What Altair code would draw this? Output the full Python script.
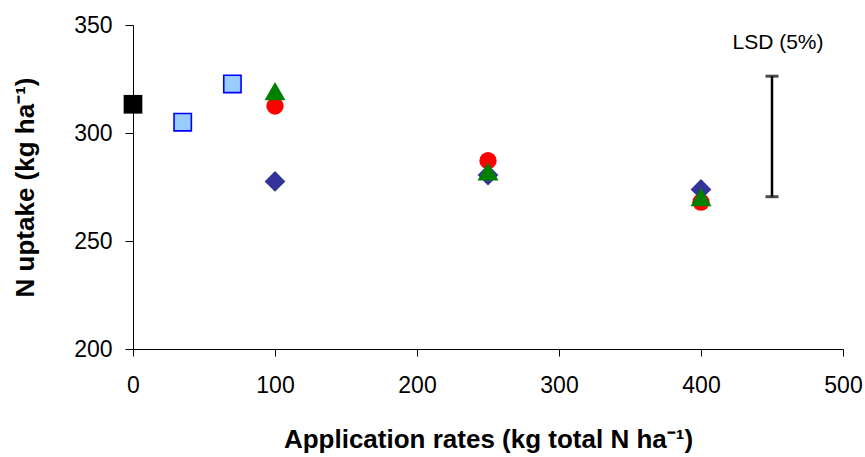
import altair as alt
import pandas as pd

# ---- data ----
control_rate = [0]
control_uptake = [313.3]

lightblue_rate = [35, 70]
lightblue_uptake = [305.0, 322.7]

rates = [100, 250, 400]
diamond_uptake = [277.6, 280.5, 273.9]
red_uptake = [312.5, 287.2, 268.0]
green_uptake = [319.4, 282.2, 270.3]

lsd_x = [450]
lsd_low = [270.5]
lsd_high = [326.3]
lsd_label = ["LSD (5%)"]

FONT = "Liberation Sans"

x_scale = alt.Scale(domain=[0, 500], nice=False, zero=False)
y_scale = alt.Scale(domain=[200, 350], nice=False, zero=False)

x_axis = alt.Axis(
    title="Application rates (kg total N ha⁻¹)",
    values=[0, 100, 200, 300, 400, 500],
    format="d",
    grid=False,
    tickSize=7,
    labelPadding=18,
    labelFlush=False,
    titleY=98,
    titleBaseline="alphabetic",
)
y_axis = alt.Axis(
    title="N uptake (kg ha⁻¹)",
    values=[200, 250, 300, 350],
    format="d",
    grid=False,
    tickSize=8,
    labelPadding=13,
    labelFlush=False,
    titleX=-100,
    titleY=162,
    titleAngle=270,
    titleAlign="center",
    titleBaseline="alphabetic",
)


def series_layer(xs, ys, shape, fill, stroke, stroke_width, size, with_axes=False):
    d = pd.DataFrame({"rate": xs, "uptake": ys})
    if with_axes:
        xe = alt.X("rate:Q", scale=x_scale, axis=x_axis)
        ye = alt.Y("uptake:Q", scale=y_scale, axis=y_axis)
    else:
        xe = alt.X("rate:Q", scale=x_scale)
        ye = alt.Y("uptake:Q", scale=y_scale)
    return alt.Chart(d).mark_point(
        shape=shape, filled=True, fill=fill, stroke=stroke,
        strokeWidth=stroke_width, size=size, opacity=1, fillOpacity=1, strokeOpacity=1,
    ).encode(x=xe, y=ye)


control = series_layer(control_rate, control_uptake, "square", "#000000", "#000000", 0, 350, with_axes=True)
lightblue = series_layer(lightblue_rate, lightblue_uptake, "square", "#99CCFF", "#0000FF", 1.6, 300)
diamond = series_layer(rates, diamond_uptake, "diamond", "#333399", "#333399", 0, 430)
red = series_layer(rates, red_uptake, "circle", "#FF0000", "#FF0000", 0, 300)
green = series_layer(rates, green_uptake, "triangle-up", "#008000", "#008000", 0, 441)

lsd_df = pd.DataFrame({"x": lsd_x, "low": lsd_low, "high": lsd_high, "label": lsd_label})

lsd_rule = alt.Chart(lsd_df).mark_rule(color="black", strokeWidth=2.5).encode(
    x=alt.X("x:Q", scale=x_scale),
    y=alt.Y("low:Q", scale=y_scale),
    y2="high:Q",
)
lsd_cap_low = alt.Chart(lsd_df).mark_tick(color="black", orient="horizontal", size=13, thickness=3).encode(
    x=alt.X("x:Q", scale=x_scale),
    y=alt.Y("low:Q", scale=y_scale),
)
lsd_cap_high = alt.Chart(lsd_df).mark_tick(color="black", orient="horizontal", size=13, thickness=3).encode(
    x=alt.X("x:Q", scale=x_scale),
    y=alt.Y("high:Q", scale=y_scale),
)
lsd_text = alt.Chart(lsd_df).mark_text(
    font=FONT, fontSize=21, color="black", align="center", baseline="alphabetic", dx=6, dy=-27
).encode(
    x=alt.X("x:Q", scale=x_scale),
    y=alt.Y("high:Q", scale=y_scale),
    text="label:N",
)

chart = alt.layer(
    control, lightblue, diamond, red, green,
    lsd_rule, lsd_cap_low, lsd_cap_high, lsd_text,
).properties(
    width=710,
    height=324,
    padding={"left": 133, "top": 25, "right": 22, "bottom": 108},
    autosize=alt.AutoSizeParams(type="none"),
    background="white",
).configure_view(stroke=None).configure_axis(
    domainColor="black",
    domainWidth=1,
    tickColor="black",
    tickWidth=1,
    labelColor="black",
    labelFont=FONT,
    labelFontSize=23,
    titleColor="black",
    titleFont=FONT,
    titleFontSize=26,
    titleFontWeight="bold",
)

chart.save("out.html", embed_options={"renderer": "svg", "actions": False})
